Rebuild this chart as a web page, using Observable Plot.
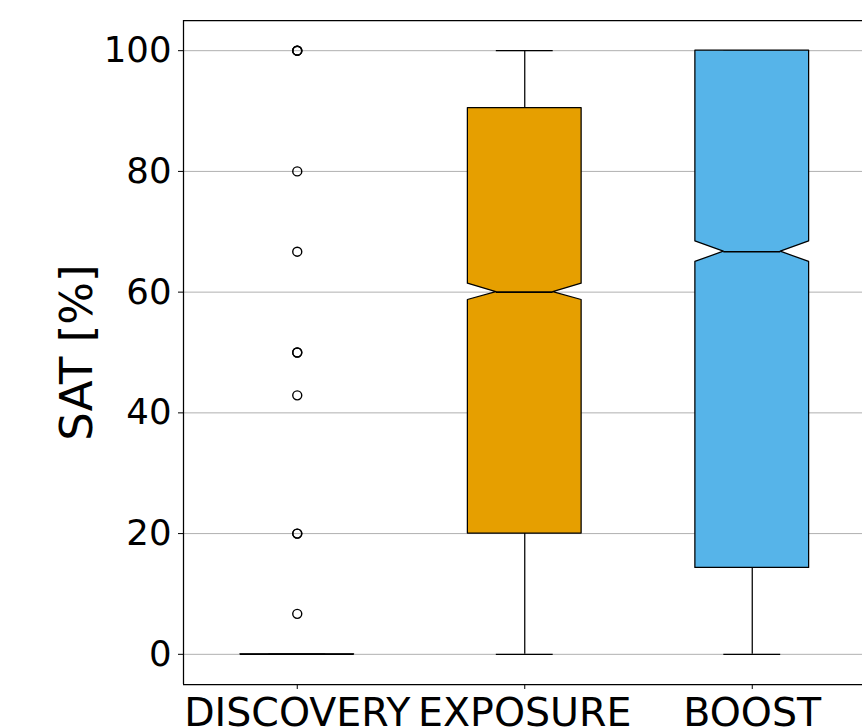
<!DOCTYPE html>
<html>
<head>
<meta charset="utf-8">
<script src="https://cdn.jsdelivr.net/npm/d3@7"></script>
<script src="https://cdn.jsdelivr.net/npm/@observablehq/plot@0.6"></script>
<style>
  html, body { margin: 0; padding: 0; background: #fff; overflow: hidden; }
  #chart svg { display: block; font-family: "DejaVu Sans", sans-serif; }
</style>
</head>
<body>
<div id="chart"></div>
<script>
// ---- data ----
const categories = ["DISCOVERY", "EXPOSURE", "BOOST"];
const whiskerLow  = [0, 0, 0];
const q1          = [0, 20, 14.3];
const notchLow    = [0, 58.7, 65.0];
const median      = [0, 60, 66.7];
const notchHigh   = [0, 61.4, 68.4];
const q3          = [0, 90.5, 100];
const whiskerHigh = [0, 100, 100];
const boxColors   = ["#000000", "#E69F00", "#56B4E9"];
// repeated values are overlapping fliers (drawn darker in the reference)
const discoveryOutliers = [100, 100, 100, 80, 66.7, 50, 50, 42.9, 20, 20, 6.7];
const yTicks = [0, 20, 40, 60, 80, 100];
const yLabel = "SAT [%]";

// ---- derived tables ----
const xDomain = [0.5, categories.length + 0.5];
const yDomain = [-5, 105];
const boxHalf = 0.25;   // half box width (x units)
const capHalf = 0.125;  // half cap / notch width

const boxPts = [];
categories.forEach((c, i) => {
  const pos = i + 1;
  const ys = [q1[i], notchLow[i], median[i], notchHigh[i], q3[i]];
  const hw = [boxHalf, boxHalf, capHalf, boxHalf, boxHalf];
  const flat = q1[i] === q3[i];
  ys.forEach((y, k) => {
    const h = flat ? boxHalf : hw[k];
    boxPts.push({cat: c, color: boxColors[i], y, x1: pos - h, x2: pos + h});
  });
});

const stats = categories.map((c, i) => ({
  cat: c, pos: i + 1,
  lo: whiskerLow[i], q1: q1[i], med: median[i], q3: q3[i], hi: whiskerHigh[i],
  medHalf: q1[i] === q3[i] ? boxHalf : capHalf
}));

const outliers = discoveryOutliers.map(v => ({pos: 1, v}));

const chart = Plot.plot({
  width: 862,
  height: 728,
  marginLeft: 183,
  marginRight: -3.5,
  marginTop: 20,
  marginBottom: 44,
  style: {fontFamily: "DejaVu Sans, sans-serif", background: "#fff", color: "#000"},
  x: {domain: xDomain},
  y: {domain: yDomain},
  marks: [
    Plot.gridY(yTicks, {stroke: "#b0b0b0", strokeOpacity: 1, strokeWidth: 1}),
    // whiskers
    Plot.ruleX(stats, {x: "pos", y1: "q3", y2: "hi", stroke: "#000", strokeWidth: 1.25}),
    Plot.ruleX(stats, {x: "pos", y1: "lo", y2: "q1", stroke: "#000", strokeWidth: 1.25}),
    // caps
    Plot.ruleY(stats, {y: "hi", x1: d => d.pos - capHalf, x2: d => d.pos + capHalf, stroke: "#000", strokeWidth: 1.25}),
    Plot.ruleY(stats, {y: "lo", x1: d => d.pos - capHalf, x2: d => d.pos + capHalf, stroke: "#000", strokeWidth: 1.25}),
    // notched boxes
    Plot.areaX(boxPts, {y: "y", x1: "x1", x2: "x2", z: "cat", fill: "color", stroke: "#000", strokeWidth: 1.25, curve: "linear"}),
    // medians
    Plot.ruleY(stats, {y: "med", x1: d => d.pos - d.medHalf, x2: d => d.pos + d.medHalf, stroke: "#000", strokeWidth: 1.6}),
    // outliers
    Plot.dot(outliers, {x: "pos", y: "v", r: 4.5, stroke: "#000", strokeWidth: 1.4, fill: "none"}),
    // spines (left, top, bottom)
    Plot.ruleX([xDomain[0]], {stroke: "#000", strokeWidth: 1.25}),
    Plot.ruleY(yDomain, {stroke: "#000", strokeWidth: 1.25}),
    // axes
    Plot.axisY(yTicks, {tickSize: 5, tickPadding: 7, fontSize: 35.5, label: null, stroke: "#000", color: "#000"}),
    Plot.axisX([1, 2, 3], {tickSize: 5, tickPadding: 8, fontSize: 39.5, label: null, tickFormat: d => categories[d - 1], stroke: "#000"}),
    // y label
    Plot.text([yLabel], {frameAnchor: "left", textAnchor: "middle", rotate: -90, dx: -106, fontSize: 45, fill: "#000"})
  ]
});
document.getElementById("chart").appendChild(chart);
</script>
</body>
</html>
